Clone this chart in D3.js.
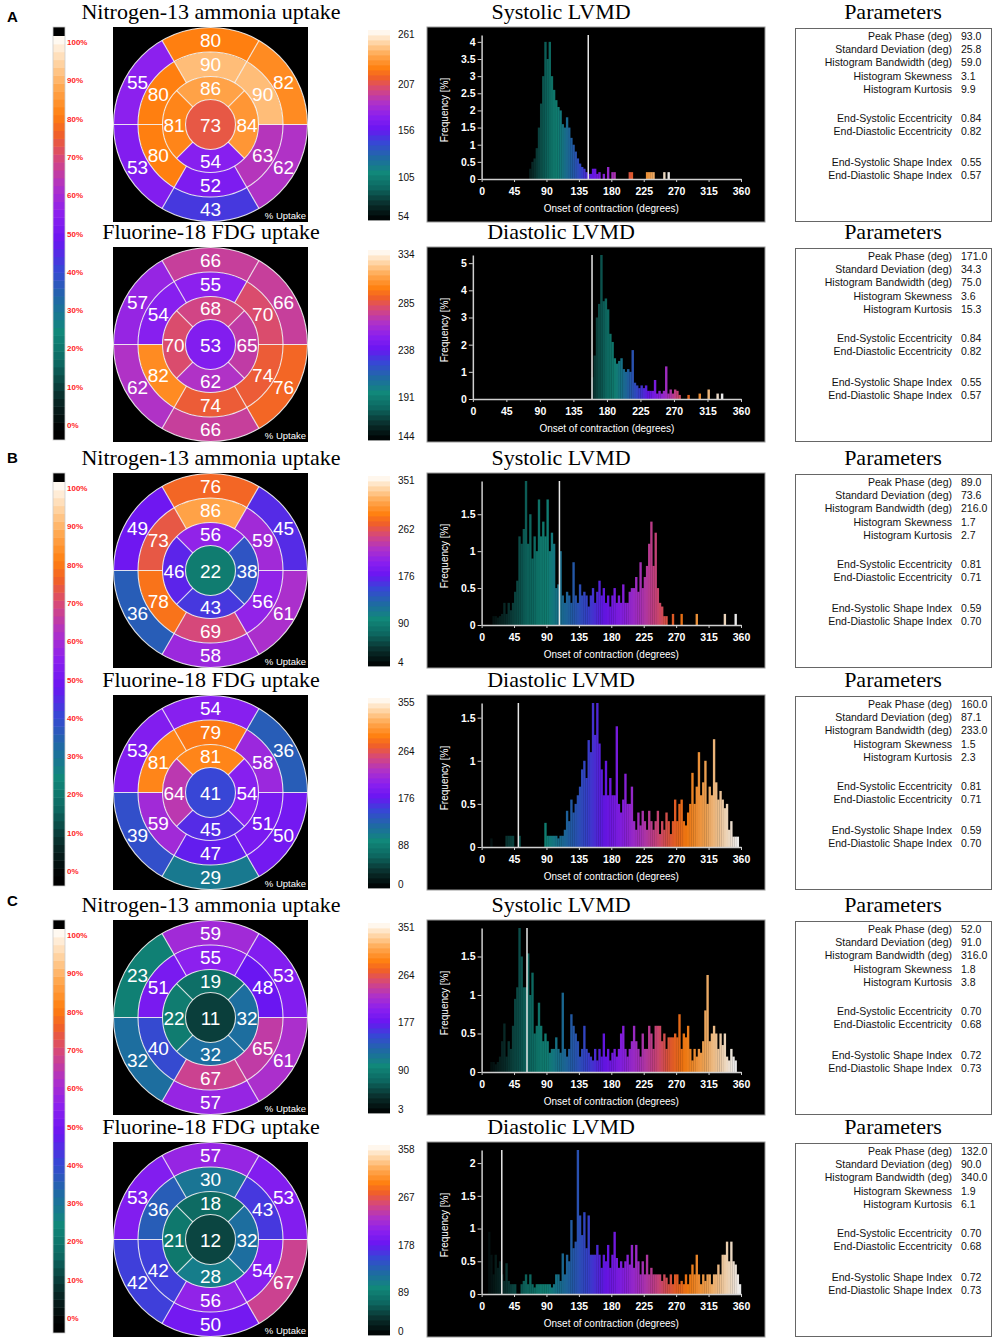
<!DOCTYPE html>
<html>
<head>
<meta charset="utf-8">
<script src="https://cdn.jsdelivr.net/npm/d3@7"></script>
<style>
  body { margin: 0; background: #fff; }
</style>
</head>
<body>
<div id="fig"></div>
<script>
//////// DATA ////////
var letters = ["A", "B", "C"];
var mapTitles = ["Nitrogen-13 ammonia uptake", "Fluorine-18 FDG uptake"];
var lvmdTitles = ["Systolic LVMD", "Diastolic LVMD"];
var uptakeTicks = [100, 90, 80, 70, 60, 50, 40, 30, 20, 10, 0];
var degTicks = [0, 45, 90, 135, 180, 225, 270, 315, 360];
var binWidth = 3;

// polar map values, AHA order: basal 1-6, mid 7-12, apical 13-16, apex 17
var segA1 = [80, 55, 53, 43, 62, 82, 90, 80, 80, 52, 63, 90, 86, 81, 54, 84, 73];
var segA2 = [66, 57, 62, 66, 76, 66, 55, 54, 82, 74, 74, 70, 68, 70, 62, 65, 53];
var segB1 = [76, 49, 36, 58, 61, 45, 86, 73, 78, 69, 56, 59, 56, 46, 43, 38, 22];
var segB2 = [54, 53, 39, 29, 50, 36, 79, 81, 59, 47, 51, 58, 81, 64, 45, 54, 41];
var segC1 = [59, 23, 32, 57, 61, 53, 55, 51, 40, 67, 65, 48, 19, 22, 32, 32, 11];
var segC2 = [57, 53, 42, 50, 67, 53, 30, 36, 42, 56, 54, 43, 18, 21, 28, 32, 12];

// phase colour bar ticks (max ... min)
var phaseA1 = [261, 207, 156, 105, 54];
var phaseA2 = [334, 285, 238, 191, 144];
var phaseB1 = [351, 262, 176, 90, 4];
var phaseB2 = [355, 264, 176, 88, 0];
var phaseC1 = [351, 264, 177, 90, 3];
var phaseC2 = [358, 267, 178, 89, 0];

// phase histograms, 3-degree bins from the start angle (frequency %)
var histStartA1 = 66;
var histA1 = [0.3, 0.5, 0.6, 0.9, 1.5, 2.2, 3.0, 4.0, 3.5, 4.0, 3.0, 2.6, 2.3, 2.1, 2.0, 1.6, 1.5, 1.8, 1.5, 1.2,
  1.0, 0.8, 0.6, 0.45, 0.35, 0.3, 0.2, 0.15, 0.15, 0.3, 0.3, 0.15, 0.2, 0, 0.15, 0, 0.35, 0, 0.2, 0.2,
  0, 0, 0, 0, 0, 0, 0.2, 0.2, 0, 0, 0, 0, 0, 0, 0.2, 0.2, 0.2, 0.2, 0, 0, 0, 0, 0.2, 0, 0.2];
var histStartA2 = 159;
var histA2 = [0.8, 1.6, 3.0, 3.5, 5.3, 3.6, 3.7, 3.3, 2.4, 2.1, 1.5, 1.3, 1.4, 1.5, 1.1, 1.0, 1.1, 1.0, 1.8, 0.6,
  0.5, 0.4, 0.5, 0.4, 0.5, 0.3, 0.3, 0.3, 0.7, 0.2, 0.3, 0.2, 0.3, 1.2, 0.2, 0.35, 0.2, 0.35, 0.3, 0.15,
  0, 0, 0, 0.15, 0, 0, 0, 0, 0.2, 0, 0, 0, 0.35, 0, 0, 0, 0.2, 0, 0.2];
var histStartB1 = 15;
var histB1 = [0.12, 0.12, 0.1, 0.12, 0.15, 0.3, 0.15, 0.3, 0.2, 0.3, 0.45, 0.6, 1.2, 1.1, 1.3, 1.95, 1.1, 1.5, 0.9, 1.2,
  1.0, 1.7, 1.2, 1.4, 1.2, 1.7, 1.0, 1.25, 1.1, 0.5, 0.55, 1.0, 0.4, 0.3, 0.45, 0.4, 0.3, 0.85, 0.4, 0.3,
  0.55, 0.4, 0.45, 0.4, 0.25, 0.4, 0.5, 0.3, 0.45, 0.6, 0.4, 0.5, 0.3, 0.4, 0.25, 0.4, 0.5, 0.3, 0.4, 0.3,
  0.55, 0.3, 0.3, 0.45, 0.5, 0.5, 0.65, 0.45, 0.85, 0.5, 0.65, 0.8, 1.1, 1.4, 0.8, 1.25, 0.5, 0.3, 0.25, 0.12,
  0.12, 0, 0, 0.15, 0, 0, 0, 0.15, 0, 0, 0, 0, 0, 0, 0.15, 0, 0, 0, 0, 0,
  0, 0, 0, 0, 0, 0, 0, 0.15, 0, 0, 0, 0, 0.15];
var histStartB2 = 12;
var histB2 = [0.1, 0, 0, 0, 0, 0, 0, 0.13, 0.13, 0.13, 0.13, 0, 0, 0.13, 0, 0, 0, 0, 0, 0,
  0, 0, 0, 0, 0, 0.28, 0.13, 0.13, 0.13, 0.13, 0.13, 0.1, 0.13, 0.13, 0.2, 0.42, 0.3, 0.55, 0.4, 0.5,
  0.6, 0.7, 0.9, 1.0, 0.8, 1.24, 1.1, 1.67, 1.3, 1.67, 1.2, 0.9, 0.6, 1.0, 0.6, 0.8, 0.6, 0.6, 1.4, 0.5,
  0.4, 0.55, 0.85, 0.5, 0.5, 0.7, 0.3, 0.2, 0.4, 0.25, 0.42, 0.3, 0.2, 0.42, 0.3, 0.2, 0.3, 0.42, 0.15, 0.3,
  0.2, 0.4, 0.3, 0.15, 0.3, 0.55, 0.3, 0.5, 0.55, 0.3, 0.25, 0.4, 0.5, 0.86, 0.5, 0.7, 1.1, 0.6, 0.75, 1.0,
  0.5, 0.7, 0.6, 1.25, 0.75, 0.55, 0.65, 0.55, 0.45, 0.5, 0.2, 0.3, 0.12, 0.12, 0.12];
var histStartC1 = 12;
var histC1 = [0.13, 0.13, 0.1, 0.13, 0.2, 0.4, 0.63, 0.2, 0.4, 0.3, 0.6, 0.95, 1.1, 1.87, 1.5, 1.1, 1.1, 1.54, 1.0, 1.29,
  0.5, 0.6, 0.9, 0.6, 0.4, 0.5, 0.4, 0.25, 0.3, 0.3, 0.45, 0.3, 0.25, 1.03, 0.3, 0.2, 0.3, 0.75, 0.6, 0.5,
  0.4, 0.2, 0.3, 0.6, 0.3, 0.25, 0.2, 0.15, 0.3, 0.15, 0.3, 0.2, 0.5, 0.2, 0.3, 0.15, 0.25, 0.3, 0.2, 0.3,
  0.5, 0.6, 0.3, 0.2, 0.3, 0.4, 0.6, 0.4, 0.3, 0.2, 0.5, 0.3, 0.3, 0.6, 0.5, 0.3, 0.6, 0.6, 0.6, 0.4,
  0.5, 0.3, 0.45, 0.45, 0.45, 0.5, 0.45, 0.75, 0.3, 0.5, 0.45, 0.6, 0.3, 0.15, 0.3, 0.2, 0.3, 0.25, 0.4, 0.8,
  1.26, 0.4, 0.5, 0.6, 0.5, 0.3, 0.5, 0.35, 0.5, 0.2, 0.15, 0.3, 0.2, 0.15];
var histStartC2 = 9;
var histC2 = [0.95, 0.6, 0.3, 0.6, 0.4, 0.5, 0.3, 0.2, 0.47, 0.2, 0.15, 0.15, 0.15, 0, 0, 0.15, 0.2, 0.3, 0.15, 0.3,
  0.15, 0.1, 0.15, 0.15, 0.15, 0.15, 0.15, 0.15, 0.15, 0.1, 0.15, 0.3, 0.3, 0.2, 0.62, 0.3, 0.6, 0.5, 1.13, 0.7,
  0.8, 2.2, 1.2, 0.9, 1.25, 0.7, 1.2, 0.6, 0.6, 0.6, 0.75, 0.6, 0.4, 0.6, 0.5, 0.75, 0.4, 0.6, 0.95, 0.55,
  0.4, 0.5, 0.4, 0.5, 0.6, 0.45, 0.75, 0.4, 0.75, 0.5, 0.3, 0.5, 0.3, 0.6, 0.3, 0.4, 0.3, 0.3, 0.3, 0.3,
  0.2, 0.3, 0.25, 0.15, 0.3, 0.15, 0.3, 0.3, 0.15, 0.2, 0.15, 0.3, 0.15, 0.3, 0.45, 0.3, 0.6, 0.3, 0.15, 0.3,
  0.2, 0.3, 0.3, 0.15, 0.3, 0.3, 0.45, 0.3, 0.6, 0.6, 0.8, 0.5, 0.8, 0.5, 0.45, 0.3, 0.15];

var histYMax = [4.2, 5.3, 1.95, 1.67, 1.87, 2.2];
var histYStep = [0.5, 1, 0.5, 0.5, 0.5, 0.5];
var markerDeg = [148, 160, 108, 51, 63, 28];

var paramNames = ["Peak Phase (deg)", "Standard Deviation (deg)", "Histogram Bandwidth (deg)",
  "Histogram Skewness", "Histogram Kurtosis", "End-Systolic Eccentricity", "End-Diastolic Eccentricity",
  "End-Systolic Shape Index", "End-Diastolic Shape Index"];
var paramA1 = ["93.0", "25.8", "59.0", "3.1", "9.9", "0.84", "0.82", "0.55", "0.57"];
var paramA2 = ["171.0", "34.3", "75.0", "3.6", "15.3", "0.84", "0.82", "0.55", "0.57"];
var paramB1 = ["89.0", "73.6", "216.0", "1.7", "2.7", "0.81", "0.71", "0.59", "0.70"];
var paramB2 = ["160.0", "87.1", "233.0", "1.5", "2.3", "0.81", "0.71", "0.59", "0.70"];
var paramC1 = ["52.0", "91.0", "316.0", "1.8", "3.8", "0.70", "0.68", "0.72", "0.73"];
var paramC2 = ["132.0", "90.0", "340.0", "1.9", "6.1", "0.70", "0.68", "0.72", "0.73"];

//////// COLOUR MAP ////////
var cmap = d3.scaleLinear()
    .domain([0, .08, .17, .25, .33, .41, .48, .55, .62, .69, .75, .8, .87, .93, 1])
    .range(["#000000", "#092a28", "#0d6760", "#11887a", "#1f6aa4", "#3846d6", "#6a16f2", "#8c20ee",
            "#b032c6", "#d6487a", "#f0602a", "#ff7f10", "#ffa850", "#ffd2a0", "#ffffff"])
    .clamp(true);

var rows = [
  {seg: segA1, phase: phaseA1, start: histStartA1, hist: histA1, par: paramA1},
  {seg: segA2, phase: phaseA2, start: histStartA2, hist: histA2, par: paramA2},
  {seg: segB1, phase: phaseB1, start: histStartB1, hist: histB1, par: paramB1},
  {seg: segB2, phase: phaseB2, start: histStartB2, hist: histB2, par: paramB2},
  {seg: segC1, phase: phaseC1, start: histStartC1, hist: histC1, par: paramC1},
  {seg: segC2, phase: phaseC2, start: histStartC2, hist: histC2, par: paramC2}
];

//////// CANVAS ////////
var W = 995, H = 1339;
var sans = "'Liberation Sans', Arial, sans-serif",
    serif = "'Liberation Serif', 'Times New Roman', serif";
var rowTops = [27, 247, 473, 695, 920, 1142];
var letterY = [22, 463, 906];

var svg = d3.select("#fig").append("svg")
    .attr("width", W).attr("height", H)
    .style("display", "block")
    .style("background", "#fff");

//////// PANEL LETTERS + UPTAKE COLOUR BARS ////////
letters.forEach(function(l, p) {
  svg.append("text")
      .attr("x", 7).attr("y", letterY[p])
      .attr("font-family", sans).attr("font-weight", "bold").attr("font-size", 15)
      .text(l);

  var y0 = rowTops[p * 2];
  var g = svg.append("g");
  var yBar = d3.scaleLinear().domain([0, 100]).range([y0 + 403, y0 + 9]);
  var bands = d3.range(0, 100, 2);

  g.append("rect").attr("x", 53).attr("y", y0).attr("width", 12).attr("height", 9).attr("fill", "#000");
  g.append("rect").attr("x", 53).attr("y", y0 + 403).attr("width", 12).attr("height", 10).attr("fill", "#000");
  g.selectAll("rect.band").data(bands).enter().append("rect")
      .attr("class", "band")
      .attr("x", 53).attr("width", 12)
      .attr("y", function(d) { return yBar(d + 2); })
      .attr("height", function(d) { return yBar(d) - yBar(d + 2) + 0.5; })
      .attr("fill", function(d) { return cmap((d + 1) / 100); });
  g.append("rect").attr("x", 53).attr("y", y0).attr("width", 12).attr("height", 413)
      .attr("fill", "none").attr("stroke", "#ccc").attr("stroke-width", 0.8);

  var yLab = d3.scaleLinear().domain([0, 100]).range([y0 + 398, y0 + 15]);
  g.selectAll("text.pct").data(uptakeTicks).enter().append("text")
      .attr("class", "pct")
      .attr("x", 67).attr("y", function(d) { return yLab(d) + 3; })
      .attr("font-family", sans).attr("font-size", 8).attr("font-weight", "bold")
      .attr("fill", "#ff1e1e")
      .text(function(d) { return d + "%"; });
});

//////// ROWS ////////
var arc = d3.arc();
var toRad = Math.PI / 180;

rows.forEach(function(r, i) {
  var top = rowTops[i];
  var kind = i % 2;
  var g = svg.append("g");

  // titles
  g.append("text").attr("x", 211).attr("y", top - 8).attr("text-anchor", "middle")
      .attr("font-family", serif).attr("font-size", 22).text(mapTitles[kind]);
  g.append("text").attr("x", 561).attr("y", top - 8).attr("text-anchor", "middle")
      .attr("font-family", serif).attr("font-size", 22).text(lvmdTitles[kind]);
  g.append("text").attr("x", 893).attr("y", top - 8).attr("text-anchor", "middle")
      .attr("font-family", serif).attr("font-size", 22).text("Parameters");

  // ---- polar map ----
  var cx = 210.5, cy = top + 97.5;
  var pg = g.append("g");
  pg.append("rect").attr("x", 113).attr("y", top).attr("width", 195).attr("height", 195).attr("fill", "#000");

  var radii = [0, 25, 48, 72.5, 97];
  var segs = r.seg.map(function(v, k) {
    var ring, c, span, idx;
    if (k < 6) { ring = 3; idx = k; span = 60; }
    else if (k < 12) { ring = 2; idx = k - 6; span = 60; }
    else if (k < 16) { ring = 1; idx = k - 12; span = 90; }
    else { ring = 0; idx = 0; span = 360; }
    c = -idx * span;
    return {v: v, r0: radii[ring], r1: radii[ring + 1], a0: (c - span / 2) * toRad, a1: (c + span / 2) * toRad,
            c: c * toRad, lr: ring === 0 ? 0 : (radii[ring] + radii[ring + 1]) / 2 + (ring === 3 ? -0.5 : 0)};
  });

  pg.selectAll("path.seg").data(segs).enter().append("path")
      .attr("class", "seg")
      .attr("transform", "translate(" + cx + "," + cy + ")")
      .attr("d", function(d) {
        return arc({innerRadius: d.r0, outerRadius: d.r1, startAngle: d.a0, endAngle: d.a1});
      })
      .attr("fill", function(d) { return cmap(d.v / 100); });

  // grid lines
  var lines = pg.append("g").attr("transform", "translate(" + cx + "," + cy + ")")
      .attr("stroke", "#fff").attr("stroke-opacity", 0.85).attr("stroke-width", 1.1).attr("fill", "none");
  lines.selectAll("circle").data(radii.slice(1)).enter().append("circle").attr("r", function(d) { return d; });
  var spokes = d3.range(30, 360, 60).map(function(a) { return {a: a, r0: 48, r1: 97}; })
      .concat(d3.range(45, 360, 90).map(function(a) { return {a: a, r0: 25, r1: 48}; }));
  lines.selectAll("line").data(spokes).enter().append("line")
      .attr("x1", function(d) { return d.r0 * Math.sin(d.a * toRad); })
      .attr("y1", function(d) { return -d.r0 * Math.cos(d.a * toRad); })
      .attr("x2", function(d) { return d.r1 * Math.sin(d.a * toRad); })
      .attr("y2", function(d) { return -d.r1 * Math.cos(d.a * toRad); });

  pg.selectAll("text.val").data(segs).enter().append("text")
      .attr("class", "val")
      .attr("x", function(d) { return cx + d.lr * Math.sin(d.c); })
      .attr("y", function(d) { return cy - d.lr * Math.cos(d.c) + 7; })
      .attr("text-anchor", "middle")
      .attr("font-family", sans).attr("font-size", 19).attr("fill", "#fff")
      .text(function(d) { return d.v; });

  pg.append("text").attr("x", 306).attr("y", top + 192).attr("text-anchor", "end")
      .attr("font-family", sans).attr("font-size", 9.5).attr("fill", "#fff").text("% Uptake");

  // ---- phase colour bar ----
  var pmax = r.phase[0], pmin = r.phase[r.phase.length - 1];
  var cb = g.append("g");
  var yCb = d3.scaleLinear().domain([pmin, pmax]).range([top + 193, top + 3]);
  var steps = d3.range(0, 38);
  cb.selectAll("rect").data(steps).enter().append("rect")
      .attr("x", 368).attr("width", 22)
      .attr("y", function(d) { return top + 3 + (37 - d) * 190 / 38; })
      .attr("height", 190 / 38 + 0.4)
      .attr("fill", function(d) { return cmap((d + 0.5) / 38); });
  cb.selectAll("text").data(r.phase).enter().append("text")
      .attr("x", 398)
      .attr("y", function(d) { return Math.max(top + 10, Math.min(top + 193, yCb(d) + 8)); })
      .attr("font-family", sans).attr("font-size", 10).attr("fill", "#111")
      .text(function(d) { return d; });

  // ---- histogram ----
  var hg = g.append("g");
  hg.append("rect").attr("x", 427).attr("y", top).attr("width", 338).attr("height", 195)
      .attr("fill", "#000").attr("stroke", "#999").attr("stroke-width", 1);

  var yTicks = d3.range(0, histYMax[i] + 1e-9, histYStep[i]);
  var fmt = d3.format("~g");
  // left edge depends on the widest y tick label
  var probe = hg.append("text").attr("font-family", sans).attr("font-size", 10.5).attr("font-weight", "bold")
      .text(yTicks.map(fmt).reduce(function(a, b) { return b.length > a.length ? b : a; }, ""));
  var lw = probe.node().getComputedTextLength();
  probe.remove();
  var left = 467 + lw;

  var xs = d3.scaleLinear().domain([0, 360]).range([left, 741]);
  var ys = d3.scaleLinear().domain([0, histYMax[i]]).range([top + 152, top + 8]);

  var bins = r.hist.map(function(v, k) { return {deg: r.start + k * binWidth, v: v}; })
      .filter(function(d) { return d.v > 0; });
  hg.selectAll("rect.bar").data(bins).enter().append("rect")
      .attr("class", "bar")
      .attr("x", function(d) { return xs(d.deg); })
      .attr("width", function(d) { return xs(d.deg + binWidth) - xs(d.deg) + 0.2; })
      .attr("y", function(d) { return ys(d.v); })
      .attr("height", function(d) { return ys(0) - ys(d.v); })
      .attr("fill", function(d) { return cmap((d.deg + binWidth / 2 - pmin) / (pmax - pmin)); })
      .attr("fill-opacity", 0.92);

  hg.append("line")
      .attr("x1", xs(markerDeg[i])).attr("x2", xs(markerDeg[i]))
      .attr("y1", ys(0)).attr("y2", ys(histYMax[i]))
      .attr("stroke", "#e8e8e8").attr("stroke-width", 1.5);

  var xAxis = hg.append("g")
      .attr("transform", "translate(0," + ys(0) + ")")
      .call(d3.axisBottom(xs).tickValues(degTicks).tickSize(3).tickSizeOuter(0).tickPadding(6));
  var yAxis = hg.append("g")
      .attr("transform", "translate(" + left + ",0)")
      .call(d3.axisLeft(ys).tickValues(yTicks).tickFormat(fmt).tickSize(4).tickSizeOuter(0).tickPadding(2));
  [xAxis, yAxis].forEach(function(a) {
    a.select(".domain").attr("stroke", "#cfcfcf").attr("stroke-width", 1.5);
    a.selectAll(".tick line").attr("stroke", "#cfcfcf");
    a.selectAll(".tick text").attr("fill", "#fff")
        .attr("font-family", sans).attr("font-size", 10.5).attr("font-weight", "bold");
  });

  hg.append("text")
      .attr("x", (left + 741) / 2).attr("y", top + 185).attr("text-anchor", "middle")
      .attr("font-family", sans).attr("font-size", 10).attr("fill", "#fff")
      .text("Onset of contraction (degrees)");
  hg.append("text")
      .attr("transform", "translate(448," + (top + 83) + ") rotate(-90)")
      .attr("text-anchor", "middle")
      .attr("font-family", sans).attr("font-size", 10).attr("fill", "#fff")
      .text("Frequency [%]");

  // ---- parameters ----
  var qg = g.append("g");
  qg.append("rect").attr("x", 795.5).attr("y", top + 1.5).attr("width", 196).attr("height", 193)
      .attr("fill", "#fff").attr("stroke", "#666").attr("stroke-width", 1);
  var lineY = [13, 26.2, 39.4, 52.6, 65.8, 95, 108.2, 139, 152.2];
  qg.selectAll("text.pn").data(paramNames).enter().append("text")
      .attr("class", "pn")
      .attr("x", 952).attr("y", function(d, k) { return top + lineY[k]; })
      .attr("text-anchor", "end")
      .attr("font-family", sans).attr("font-size", 10.5).attr("fill", "#111")
      .text(function(d) { return d; });
  qg.selectAll("text.pv").data(r.par).enter().append("text")
      .attr("class", "pv")
      .attr("x", 961).attr("y", function(d, k) { return top + lineY[k]; })
      .attr("font-family", sans).attr("font-size", 10.5).attr("fill", "#111")
      .text(function(d) { return d; });
});
</script>
</body>
</html>
